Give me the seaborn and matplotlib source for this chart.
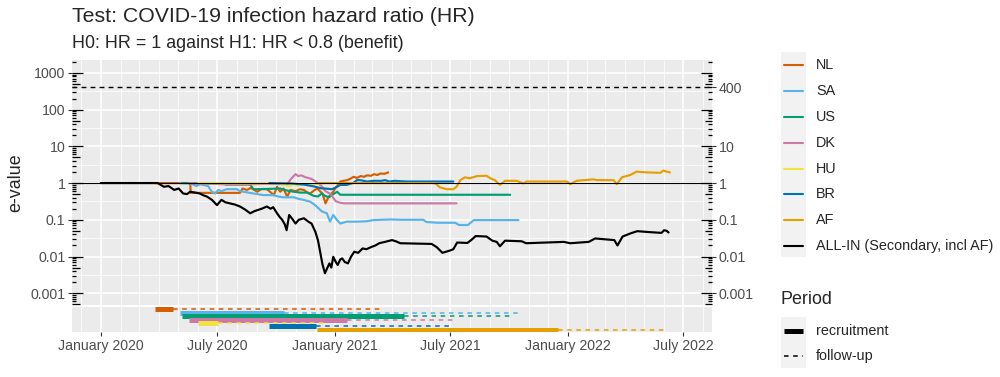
# e-value monitoring chart, main panel + recruitment/follow-up strip
import numpy as np
import pandas as pd
import matplotlib
matplotlib.use('Agg')
import matplotlib.pyplot as plt
import matplotlib.dates as mdates
import matplotlib.ticker as mticker
import matplotlib.transforms as mtransforms
from matplotlib.lines import Line2D
from matplotlib.patches import Rectangle
import seaborn as sns

start = pd.Timestamp('2020-01-01')

sites = ['NL', 'SA', 'US', 'DK', 'HU', 'BR', 'AF', 'ALL-IN (Secondary, incl AF)']
colors = ['#D55E00', '#56B4E9', '#009E73', '#CC79A7', '#F0E442', '#0072B2', '#E69F00', '#000000']

# days since 2020-01-01 / e-value
nl_day = [85, 140, 141, 218, 222, 229, 235, 245, 252, 260, 266, 271, 276, 281, 286, 292, 297, 305, 312,
          318, 323, 328, 334, 339, 347, 352, 356, 359, 364, 368, 372, 375, 380, 386, 391, 396, 401, 407,
          412, 417, 423, 428, 433, 438, 444, 450]
nl_e = [1.0, 1.0, 0.54, 0.54, 0.71, 0.65, 0.74, 0.58, 0.69, 0.68, 0.56, 0.47, 0.79, 0.58, 0.71, 0.43, 0.65,
        0.60, 0.68, 0.65, 0.56, 0.52, 0.63, 0.71, 0.52, 0.28, 0.40, 0.47, 0.58, 0.76, 0.91, 1.10, 1.15, 1.20,
        1.32, 1.48, 1.38, 1.55, 1.48, 1.62, 1.58, 1.74, 1.66, 1.82, 1.78, 1.95]

sa_day = [124, 137, 142, 150, 155, 168, 174, 179, 184, 189, 197, 213, 218, 223, 239, 248, 255, 270, 278,
          286, 302, 310, 317, 328, 333, 338, 346, 354, 359, 364, 370, 375, 385, 401, 416, 427, 453, 470,
          505, 510, 528, 555, 561, 575, 584, 654]
sa_e = [1.0, 1.0, 0.95, 0.83, 0.93, 0.83, 0.58, 0.52, 0.65, 0.60, 0.68, 0.68, 0.60, 0.58, 0.52, 0.49, 0.47,
        0.47, 0.43, 0.41, 0.41, 0.37, 0.35, 0.31, 0.27, 0.23, 0.17, 0.15, 0.089, 0.135, 0.098, 0.079, 0.089,
        0.089, 0.091, 0.098, 0.102, 0.10, 0.10, 0.087, 0.083, 0.083, 0.072, 0.072, 0.098, 0.098]

us_day = [127, 190, 197, 234, 239, 260, 281, 291, 302, 312, 323, 333, 340, 346, 351, 357, 362, 370, 375, 641]
us_e = [1.0, 0.97, 0.91, 0.91, 0.68, 0.69, 0.71, 0.63, 0.58, 0.55, 0.55, 0.45, 0.43, 0.52, 0.45, 0.41,
        0.47, 0.58, 0.48, 0.48]

dk_day = [138, 175, 200, 230, 260, 292, 298, 305, 309, 314, 320, 330, 338, 345, 352, 360, 368, 375, 382, 557]
dk_e = [1.0, 0.95, 0.92, 0.92, 0.95, 0.93, 1.3, 1.75, 1.55, 1.62, 1.45, 1.3, 1.05, 0.85, 0.6, 0.5, 0.32,
        0.29, 0.28, 0.28]

hu_day = [152, 280, 288, 295, 302, 308, 316, 324, 333, 342, 351]
hu_e = [1.0, 0.98, 0.88, 0.82, 0.93, 0.85, 0.95, 0.87, 0.93, 0.98, 1.0]

br_day = [264, 300, 320, 335, 345, 351, 362, 370, 375, 385, 396, 401, 406, 417, 427, 440, 445, 452, 460,
          470, 480, 552]
br_e = [1.0, 0.97, 0.9, 0.8, 0.72, 0.71, 0.68, 0.79, 0.89, 0.89, 1.02, 1.2, 1.2, 1.1, 1.15, 1.15, 1.2, 1.1,
        1.15, 1.12, 1.1, 1.1]

af_day = [338, 520, 524, 531, 542, 552, 557, 563, 570, 578, 589, 604, 610, 617, 625, 633, 651, 662, 667,
          730, 735, 745, 771, 777, 803, 808, 816, 829, 839, 855, 876, 881, 886, 891]
af_e = [1.0, 1.0, 0.98, 0.76, 0.68, 0.68, 0.79, 1.2, 1.43, 1.35, 1.55, 1.58, 1.35, 1.2, 0.89, 1.15, 1.15,
        0.98, 1.1, 1.1, 0.93, 1.15, 1.26, 1.2, 1.2, 0.93, 1.43, 1.66, 2.04, 1.95, 1.9, 2.19, 2.04, 1.95]

all_day = [0, 89, 99, 106, 115, 122, 129, 135, 140, 148, 155, 160, 166, 174, 182, 189, 195, 202, 210, 218,
           226, 234, 240, 244, 252, 260, 266, 270, 276, 280, 284, 288, 291, 295, 300, 305, 310, 318, 325,
           330, 336, 340, 343, 347, 351, 355, 358, 361, 364, 368, 371, 375, 378, 382, 387, 392, 397, 403,
           410, 416, 423, 430, 436, 445, 456, 462, 469, 518, 526, 535, 548, 552, 558, 574, 580, 587, 604,
           613, 620, 625, 633, 659, 666, 725, 735, 764, 774, 804, 809, 817, 830, 840, 853, 869, 878, 882,
           886, 889]
all_e = [1.0, 1.0, 0.79, 0.83, 0.65, 0.71, 0.52, 0.50, 0.58, 0.55, 0.52, 0.47, 0.43, 0.35, 0.25, 0.35, 0.30,
         0.28, 0.26, 0.23, 0.19, 0.15, 0.17, 0.18, 0.20, 0.23, 0.20, 0.22, 0.15, 0.12, 0.10, 0.076, 0.052,
         0.135, 0.105, 0.079, 0.10, 0.11, 0.089, 0.079, 0.047, 0.028, 0.015, 0.0063, 0.0035, 0.005, 0.0065,
         0.005, 0.0098, 0.0071, 0.0059, 0.0083, 0.0089, 0.0071, 0.0065, 0.010, 0.0135, 0.0126, 0.0166,
         0.0158, 0.018, 0.020, 0.023, 0.025, 0.028, 0.026, 0.023, 0.022, 0.018, 0.0126, 0.0148, 0.0158,
         0.024, 0.0234, 0.028, 0.036, 0.035, 0.027, 0.025, 0.019, 0.027, 0.026, 0.023, 0.025, 0.023, 0.025,
         0.031, 0.028, 0.020, 0.035, 0.043, 0.049, 0.047, 0.045, 0.044, 0.052, 0.050, 0.045]

# recruitment / follow-up periods (days since 2020-01-01)
period_sites = ['NL', 'SA', 'US', 'DK', 'HU', 'BR', 'AF']
recruit_start = [85, 124, 127, 138, 152, 264, 338]
recruit_end = [113, 287, 475, 386, 184, 337, 716]
followup_end = [441, 655, 641, 555, 351, 552, 886]

boundary = 400
right_ticks = [0.001, 0.01, 0.1, 1, 10, 400]
left_ticks = [0.001, 0.01, 0.1, 1, 10, 100, 1000]

series = {'NL': (nl_day, nl_e), 'SA': (sa_day, sa_e), 'US': (us_day, us_e), 'DK': (dk_day, dk_e),
          'HU': (hu_day, hu_e), 'BR': (br_day, br_e), 'AF': (af_day, af_e),
          'ALL-IN (Secondary, incl AF)': (all_day, all_e)}
rows = []
for site, (days, ev) in series.items():
    for d, e in zip(days, ev):
        rows.append((site, start + pd.Timedelta(days=d), e))
df = pd.DataFrame(rows, columns=['site', 'date', 'evalue'])

sns.set_style('darkgrid', {'axes.facecolor': '#EBEBEB', 'grid.color': 'white'})
plt.rcParams['font.family'] = ['Liberation Sans', 'DejaVu Sans']

W, H = 1000, 377
fig = plt.figure(figsize=(10, 3.77), dpi=100)

TICK = 10.2   # tick labels
LEG = 10.4    # legend labels
SUB = 12.9    # subtitle, axis title, legend title


def box(l, t, r, b):
    return [l / W, 1 - b / H, (r - l) / W, (b - t) / H]


ax = fig.add_axes(box(72, 60, 712, 305))
axp = fig.add_axes(box(72, 307, 712, 332), sharex=ax)

sns.lineplot(data=df, x='date', y='evalue', hue='site', hue_order=sites, palette=colors,
             estimator=None, sort=False, linewidth=1.55, legend=False, ax=ax)
ax.axhline(1, color='black', lw=0.8, zorder=4)
ax.axhline(boundary, color='black', lw=1.0, ls=(0, (3.5, 3)), zorder=4)

ax.set_yscale('log')
ylo, yhi = 10 ** -3.32, 10 ** 3.35
ax.set_ylim(ylo, yhi)
ax.set_xlim(start + pd.Timedelta(days=-45), start + pd.Timedelta(days=957))
ax.yaxis.set_major_locator(mticker.FixedLocator(left_ticks))
ax.yaxis.set_major_formatter(mticker.FixedFormatter(['0.001', '0.01', '0.1', '1', '10', '100', '1000']))
ax.yaxis.set_minor_locator(mticker.FixedLocator(10.0 ** np.arange(-2.5, 3.5, 1)))
ax.yaxis.set_minor_formatter(mticker.NullFormatter())
ax.xaxis.set_major_locator(mdates.MonthLocator(bymonth=[1, 7]))
ax.xaxis.set_minor_locator(mdates.MonthLocator())
ax.xaxis.set_major_formatter(mdates.DateFormatter('%B %Y'))
ax.grid(which='major', color='white', lw=1.1)
ax.grid(which='minor', color='white', lw=0.55)
ax.tick_params(axis='x', which='both', length=0, labelbottom=False)
ax.tick_params(axis='y', which='major', direction='out', length=2.7, width=0.8, color='#333333',
               labelsize=TICK, labelcolor='#4D4D4D', pad=2, left=True)
ax.tick_params(axis='y', which='minor', length=0)
ax.set_xlabel('')
ax.set_ylabel('')
for s in ax.spines.values():
    s.set_visible(False)

# right axis
axr = ax.twinx()
axr.set_yscale('log')
axr.set_ylim(ylo, yhi)
axr.grid(False)
axr.yaxis.set_major_locator(mticker.FixedLocator(right_ticks))
axr.yaxis.set_major_formatter(mticker.FixedFormatter(['0.001', '0.01', '0.1', '1', '10', '400']))
axr.yaxis.set_minor_locator(mticker.NullLocator())
axr.tick_params(axis='y', direction='out', length=2.7, width=0.8, color='#333333', labelsize=TICK,
                labelcolor='#4D4D4D', pad=2, right=True)
for s in axr.spines.values():
    s.set_visible(False)

# log ticks inside both edges
tl = mtransforms.blended_transform_factory(ax.transAxes, ax.transData)
for k in range(-4, 4):
    for m in range(1, 10):
        v = m * 10.0 ** k
        if v < ylo or v > yhi:
            continue
        L = (11 if m == 1 else 7.5 if m == 5 else 3.8) / 640
        ax.plot([0, L], [v, v], transform=tl, color='black', lw=0.9, clip_on=False, zorder=5,
                solid_capstyle='butt')
        ax.plot([1 - L, 1], [v, v], transform=tl, color='black', lw=0.9, clip_on=False, zorder=5,
                solid_capstyle='butt')

# period strip
for i, s in enumerate(period_sites):
    c = colors[sites.index(s)]
    axp.plot([start + pd.Timedelta(days=recruit_end[i]), start + pd.Timedelta(days=followup_end[i])],
             [i, i], color=c, lw=1.1, ls=(0, (3, 3)), dash_capstyle='butt')
    axp.plot([start + pd.Timedelta(days=recruit_start[i]), start + pd.Timedelta(days=recruit_end[i])],
             [i, i], color=c, lw=3.6, solid_capstyle='butt')
axp.set_ylim(6.6, -0.6)
axp.set_yticks([])
axp.yaxis.grid(False)
axp.xaxis.grid(True, which='major', color='white', lw=1.1)
axp.xaxis.grid(True, which='minor', color='white', lw=0.55)
axp.tick_params(axis='x', which='major', direction='out', length=2.7, width=0.8, color='#333333',
                labelsize=TICK, labelcolor='#4D4D4D', pad=2.5, bottom=True)
axp.tick_params(axis='x', which='minor', length=0)
for s in axp.spines.values():
    s.set_visible(False)

# titles
fig.text(72 / W, 1 - 22 / H, 'Test: COVID-19 infection hazard ratio (HR)', fontsize=15.3, va='baseline')
fig.text(72 / W, 1 - 48 / H, 'H0: HR = 1 against H1: HR < 0.8 (benefit)', fontsize=SUB, va='baseline')
fig.text(16 / W, 1 - 183 / H, 'e-value', fontsize=SUB, rotation=90, ha='center', va='center')


# legends (drawn by hand, ggplot style)
def fx(px):
    return px / W


def fy(py):
    return 1 - py / H


fig.add_artist(Rectangle((fx(781), fy(257)), 25 / W, 205 / H, transform=fig.transFigure,
                         facecolor='#F2F2F2', edgecolor='none'))
for i, (s, c) in enumerate(zip(sites, colors)):
    y = 65 + i * 25.9
    fig.add_artist(Line2D([fx(784), fx(803)], [fy(y), fy(y)], color=c, lw=1.5, transform=fig.transFigure))
    fig.text(fx(816), fy(y), s, fontsize=LEG, va='center')

fig.text(fx(781), fy(300), 'Period', fontsize=SUB, va='center')
fig.add_artist(Rectangle((fx(781), fy(368)), 25 / W, 51 / H, transform=fig.transFigure,
                         facecolor='#F2F2F2', edgecolor='none'))
fig.add_artist(Line2D([fx(784), fx(803)], [fy(331), fy(331)], color='black', lw=3.6,
                      solid_capstyle='butt', transform=fig.transFigure))
fig.text(fx(816), fy(331), 'recruitment', fontsize=LEG, va='center')
fig.add_artist(Line2D([fx(784), fx(803)], [fy(356), fy(356)], color='black', lw=1.1, ls=(0, (3, 3)),
                      dash_capstyle='butt', transform=fig.transFigure))
fig.text(fx(816), fy(356), 'follow-up', fontsize=LEG, va='center')

fig.savefig('out.png', dpi=100)
